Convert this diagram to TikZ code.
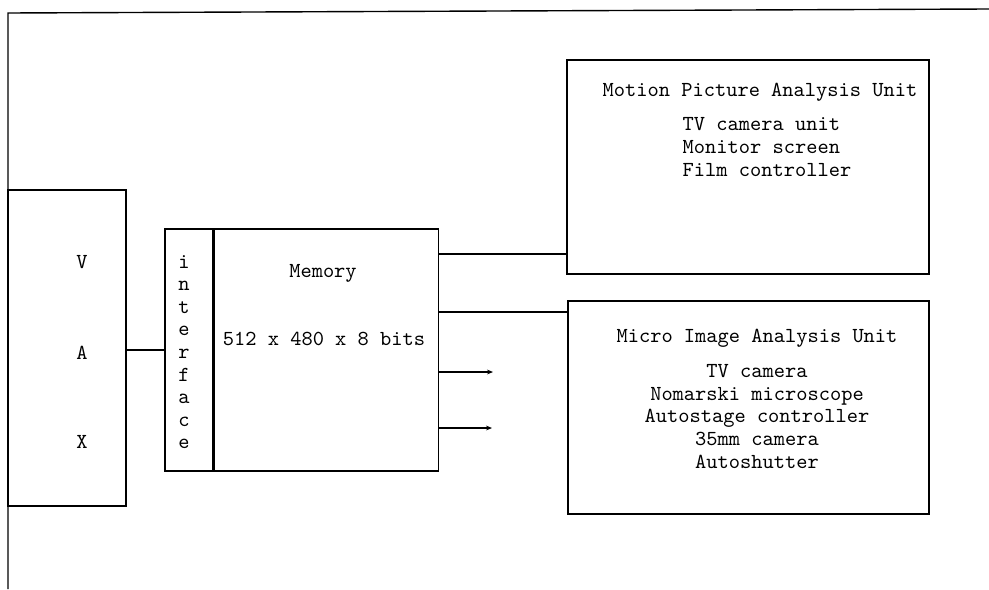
\documentclass[tikz,border=0pt]{standalone}
\usepackage{tikz}
\usetikzlibrary{arrows.meta,positioning}

\begin{document}
\begin{tikzpicture}[x=0.5pt,y=-0.5pt,line width=0.7pt,
  tt/.style={font=\fontsize{10.7}{11.3}\selectfont\ttfamily,inner sep=0pt},
  blk/.style={draw,inner sep=0pt},
  >={Stealth[length=3pt,width=2.4pt]}]
  \useasboundingbox (0,0) rectangle (989,589);
  % frame
  \draw (8,589) -- (8,13) -- (989,9);
  % boxes
  \node[blk,minimum width=59pt,minimum height=158pt] (vax) at (67,348) {};
  \node[blk,minimum width=24pt,minimum height=121pt] (iface) at (189,350) {};
  \node[blk,minimum width=112pt,minimum height=121pt,right=0pt of iface] (mem) {};
  \node[blk,minimum width=181pt,minimum height=107pt] (mpau) at (748,167) {};
  \node[blk,minimum width=180.5pt,minimum height=106.5pt] (miau) at (748.5,407.5) {};
  % texts
  \node[tt] (v) at (82,262) {V};
  \node[tt] (a) at (82,353) {A};
  \node[tt] (x) at (82,442) {X};
  \node[tt,align=center] (iftxt) at (184,352) {i\\n\\t\\e\\r\\f\\a\\c\\e};
  \node[tt] (memtxt) at (323,273) {Memory};
  \node[tt] (size) at (324,339) {512 x 480 x 8 bits};
  \node[tt] (mtitle) at (760,92) {Motion Picture Analysis Unit};
  \node[tt,align=left,anchor=west] (mlist) at (682,147)
    {TV camera unit\\Monitor screen\\Film controller};
  \node[tt] (ititle) at (757,338) {Micro Image Analysis Unit};
  \node[tt,align=center] (ilist) at (757,416.5)
    {TV camera\\Nomarski microscope\\Autostage controller\\35mm camera\\Autoshutter};
  % connectors
  \coordinate (p1) at (493,372);
  \coordinate (p2) at (492,428);
  \draw (iface.west) -- (iface.west -| vax.east);
  \draw (mem.east |- 0,254) -- (mpau.west |- 0,254);
  \draw (mem.east |- 0,312) -- (miau.west |- 0,312);
  \draw[->] (mem.east |- p1) -- (p1);
  \draw[->] (mem.east |- p2) -- (p2);
\end{tikzpicture}
\end{document}
